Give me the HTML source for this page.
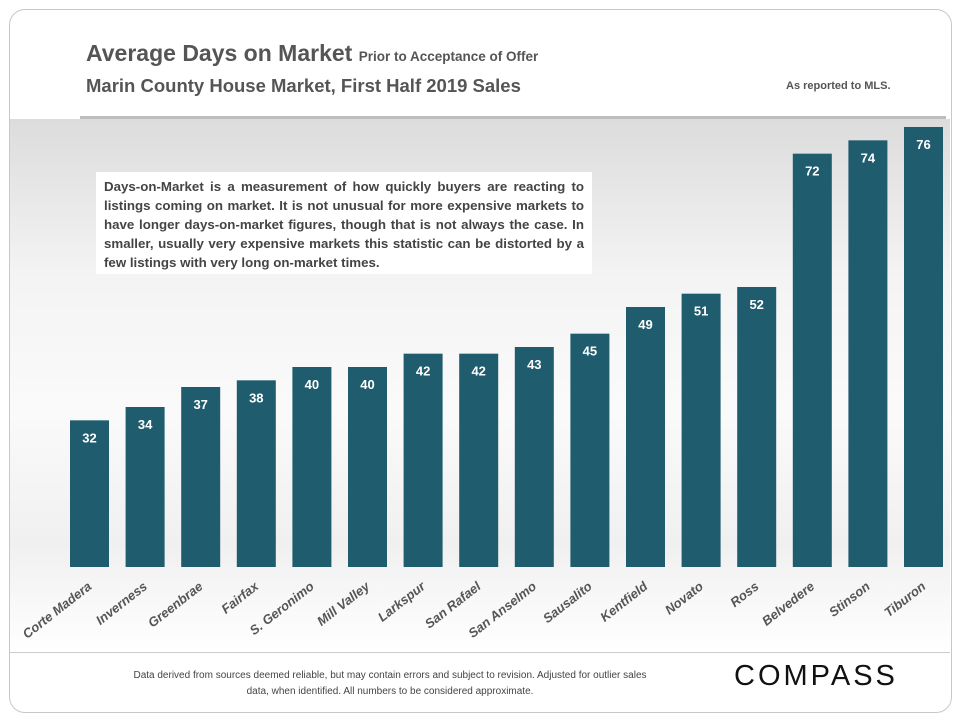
<!DOCTYPE html>
<html><head><meta charset="utf-8"><style>
body{margin:0;width:960px;height:720px;background:#fff;font-family:"Liberation Sans",sans-serif;overflow:hidden;position:relative}
.card{position:absolute;left:9px;top:9px;width:941px;height:702px;border:1px solid #c8c8c8;border-radius:16px;background:#fff}
.plot{position:absolute;left:10px;top:119px;width:940px;height:532px;background:linear-gradient(180deg,#dcdcdc 0%,#f4f4f4 30%,#fafafa 55%,#f0f0f0 80%,#fff 100%)}
.t1{position:absolute;left:86px;top:40px;color:#555;font-weight:bold;font-size:23px}
.t1 small{font-size:13.5px}
.t2{position:absolute;left:86px;top:75px;color:#555;font-weight:bold;font-size:18.5px}
.mls{position:absolute;left:786px;top:80px;color:#555;font-weight:bold;font-size:11px}
.rule{position:absolute;left:80px;top:116px;width:866px;height:3px;background:#bdbdbd}
.note{position:absolute;left:96px;top:172px;width:480px;height:92px;padding:5px 8px;background:#fff;color:#444;font-weight:bold;font-size:13.3px;line-height:19px;text-align:justify}
.foot{position:absolute;left:10px;top:652px;width:940px;border-top:1px solid #ccc}
.ft{position:absolute;left:125px;top:668px;width:530px;text-align:center;font-size:10px;color:#444;line-height:16px}
.logo{position:absolute;left:734px;top:660px;font-size:29px;letter-spacing:3px;color:#111}
</style></head><body>
<div class="card"></div>
<div class="plot"></div>
<div class="t1">Average Days on Market <small>Prior to Acceptance of Offer</small></div>
<div class="t2">Marin County House Market, First Half 2019 Sales</div>
<div class="mls">As reported to MLS.</div>
<div class="rule"></div>
<svg id="chart" width="960" height="720" style="position:absolute;left:0;top:0"></svg>
<div class="note">Days-on-Market is a measurement of how quickly buyers are reacting to listings coming on market. It is not unusual for more expensive markets to have longer days-on-market figures, though that is not always the case. In smaller, usually very expensive markets this statistic can be distorted by a few listings with very long on-market times.</div>
<div class="foot"></div>
<div class="ft">Data derived from sources deemed reliable, but may contain errors and subject to revision. Adjusted for outlier sales data, when identified. All numbers to be considered approximate.</div>
<div class="logo">COMPASS</div>
<script>
const categories=["Corte Madera","Inverness","Greenbrae","Fairfax","S. Geronimo","Mill Valley","Larkspur","San Rafael","San Anselmo","Sausalito","Kentfield","Novato","Ross","Belvedere","Stinson","Tiburon"];
const values=[32,34,37,38,40,40,42,42,43,45,49,51,52,72,74,76];
const yMin=10,yMax=76;
const svg=document.getElementById('chart');
const NS='http://www.w3.org/2000/svg';
const baseY=567,topY=127,x0=70,step=55.6,bw=39;
function y(v){return baseY-(v-yMin)/(yMax-yMin)*(baseY-topY);}
function x(i){return x0+i*step;}
categories.forEach((c,i)=>{
  const v=values[i];
  const r=document.createElementNS(NS,'rect');
  r.setAttribute('x',x(i));r.setAttribute('y',y(v));r.setAttribute('width',bw);r.setAttribute('height',baseY-y(v));r.setAttribute('fill','#1f5c6e');
  
  
  svg.appendChild(r);
  const t=document.createElementNS(NS,'text');
  t.setAttribute('x',x(i)+bw/2);t.setAttribute('y',y(v)+22);t.setAttribute('text-anchor','middle');
  t.setAttribute('fill','#fff');t.setAttribute('font-size','13');t.setAttribute('font-weight','bold');t.setAttribute('font-family','Liberation Sans, sans-serif');
  t.textContent=v;
  
  
  svg.appendChild(t);
  const l=document.createElementNS(NS,'text');
  const lx=x(i)+bw/2+3,ly=588;
  l.setAttribute('x',lx);l.setAttribute('y',ly);l.setAttribute('text-anchor','end');
  l.setAttribute('transform','rotate(-38 '+lx+' '+ly+')');
  l.setAttribute('fill','#555');l.setAttribute('font-size','13');l.setAttribute('font-weight','bold');l.setAttribute('font-style','italic');l.setAttribute('font-family','Liberation Sans, sans-serif');
  l.textContent=c;
  
  
  svg.appendChild(l);
});
</script>
</body></html>
